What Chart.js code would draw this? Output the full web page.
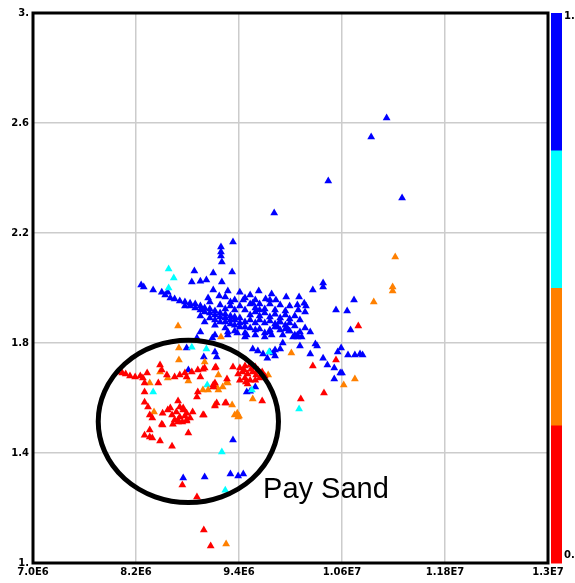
<!DOCTYPE html>
<html>
<head>
<meta charset="utf-8">
<script src="https://cdn.jsdelivr.net/npm/chart.js@4.4.1/dist/chart.umd.min.js"></script>
<style>
  html, body { margin: 0; padding: 0; background: #fff; }
  #wrap { width: 575px; height: 583px; }
</style>
</head>
<body>
<div id="wrap"><canvas id="chart"></canvas></div>
<script>
const X_UNIT = 1e6;

const xTickValues = [7.0, 8.2, 9.4, 10.6, 11.8, 13.0];
const xTickLabels = ['7.0E6', '8.2E6', '9.4E6', '1.06E7', '1.18E7', '1.3E7'];
const yTickValues = [1.0, 1.4, 1.8, 2.2, 2.6, 3.0];
const yTickLabels = ['1.', '1.4', '1.8', '2.2', '2.6', '3.'];

// colour bar, top (1.) to bottom (0.)
const colorbarColors = ['#0000ff', '#00ffff', '#ff8000', '#ff0000'];
const colorbarLabels = ['1.', '0.'];

const bluePoints = [
  [11.12, 2.618], [10.94, 2.549], [10.44, 2.389], [11.30, 2.327], [9.81, 2.273],
  [9.33, 2.167], [9.19, 2.149], [9.19, 2.131], [9.19, 2.116], [9.20, 2.095],
  [8.88, 2.062], [9.10, 2.055], [9.32, 2.058], [8.85, 2.022], [8.95, 2.025],
  [9.02, 2.029], [9.20, 2.022], [8.26, 2.011], [8.29, 2.004], [8.40, 1.993],
  [8.50, 1.985], [8.54, 1.975], [8.57, 1.985], [9.10, 1.993], [9.27, 1.989],
  [9.63, 1.989], [9.78, 1.978], [9.95, 1.967], [9.24, 1.967], [9.04, 1.964],
  [9.17, 1.971], [9.45, 1.956], [9.56, 1.945], [9.71, 1.960], [9.83, 1.956],
  [10.10, 1.967], [10.16, 1.945], [10.18, 1.935], [10.08, 1.938], [10.26, 1.993],
  [10.38, 2.018], [10.38, 2.004], [10.74, 1.956], [10.53, 1.920], [10.66, 1.916],
  [10.70, 1.847], [9.87, 1.876], [9.98, 1.844], [10.08, 1.822], [10.13, 1.822],
  [10.03, 1.822], [10.29, 1.796], [10.31, 1.789], [10.11, 1.789], [10.23, 1.760],
  [10.38, 1.745], [10.59, 1.782], [10.55, 1.767], [10.67, 1.756], [10.75, 1.756],
  [10.81, 1.760], [10.84, 1.756], [9.76, 1.767], [9.88, 1.778], [9.91, 1.800],
  [9.82, 1.753], [10.43, 1.720], [10.51, 1.709], [10.58, 1.691], [10.60, 1.691],
  [10.51, 1.669], [9.56, 1.778], [9.62, 1.771], [9.68, 1.760], [9.73, 1.745],
  [9.80, 1.764], [8.99, 1.749], [9.14, 1.749], [9.59, 1.640], [9.53, 1.625],
  [8.81, 1.702], [9.49, 1.622], [9.33, 1.447], [8.75, 1.309], [9.00, 1.313],
  [9.30, 1.324], [9.39, 1.316], [9.45, 1.324], [9.12, 1.829], [9.27, 1.829],
  [9.38, 1.836], [9.49, 1.829], [9.78, 1.829], [9.91, 1.829], [10.08, 1.829],
  [9.82, 1.775], [8.95, 1.840], [8.91, 1.818], [9.09, 1.818], [9.27, 1.840],
  [9.47, 1.822], [9.76, 1.840], [9.85, 1.858], [9.96, 1.855], [10.05, 1.829],
  [9.12, 1.767], [8.79, 1.782],
  [8.60, 1.964], [8.65, 1.960], [8.71, 1.953], [8.77, 1.949], [8.83, 1.945],
  [8.89, 1.942], [8.95, 1.935], [9.00, 1.927], [9.06, 1.924], [9.12, 1.916],
  [9.18, 1.909], [9.24, 1.905], [9.30, 1.898], [9.35, 1.895], [9.41, 1.891],
  [8.77, 1.935], [8.89, 1.927], [9.00, 1.913], [9.12, 1.902], [9.24, 1.891],
  [9.35, 1.884], [9.47, 1.876], [9.59, 1.873], [9.70, 1.873], [9.82, 1.869],
  [9.94, 1.865], [10.05, 1.862], [9.53, 1.902], [9.64, 1.898], [9.76, 1.895],
  [9.88, 1.891], [9.99, 1.887], [9.47, 1.920], [9.59, 1.927], [9.70, 1.924],
  [9.82, 1.920], [9.94, 1.916], [9.18, 1.938], [9.30, 1.935], [9.41, 1.935],
  [9.53, 1.942], [9.64, 1.942], [9.76, 1.942], [9.88, 1.938], [9.99, 1.935],
  [9.06, 1.891], [9.18, 1.876], [9.30, 1.869], [9.41, 1.858], [9.53, 1.855],
  [9.64, 1.851], [9.76, 1.847], [9.88, 1.847], [9.99, 1.844], [10.11, 1.840],
  [10.17, 1.855], [10.23, 1.840], [9.24, 1.855], [9.35, 1.844], [9.47, 1.836],
  [9.59, 1.829], [9.70, 1.822], [9.12, 1.865], [9.00, 1.876], [8.95, 1.898],
  [9.06, 1.949], [9.35, 1.956], [9.47, 1.964], [9.59, 1.956], [9.41, 1.985],
  [9.53, 1.975],
  [8.83, 1.935], [8.95, 1.920], [9.06, 1.909], [9.18, 1.895], [9.30, 1.884],
  [9.41, 1.873], [9.53, 1.884], [9.64, 1.884], [9.76, 1.880], [9.88, 1.876],
  [9.99, 1.873], [9.59, 1.913], [9.70, 1.909], [9.82, 1.905], [9.94, 1.902],
  [10.05, 1.898], [9.47, 1.858], [9.59, 1.847], [9.70, 1.836], [9.82, 1.858],
  [9.94, 1.851], [9.35, 1.865], [9.24, 1.876], [9.12, 1.884], [9.35, 1.920],
  [9.24, 1.924], [9.64, 1.920], [9.76, 1.956], [9.30, 1.949], [10.11, 1.884],
  [10.17, 1.913], [10.09, 1.920]
];

const cyanPoints = [
  [8.58, 2.069], [8.64, 2.036], [8.58, 2.000], [8.85, 1.785], [9.02, 1.778],
  [9.75, 1.767], [9.03, 1.647], [9.55, 1.629], [10.10, 1.560], [8.40, 1.622],
  [9.20, 1.404], [9.24, 1.265]
];

const orangePoints = [
  [8.69, 1.862], [8.70, 1.782], [9.19, 1.822], [10.97, 1.949], [11.22, 2.113],
  [11.19, 2.004], [11.19, 1.989], [10.01, 1.764], [10.75, 1.669], [10.62, 1.647],
  [9.00, 1.731], [9.16, 1.684], [9.26, 1.658], [9.21, 1.640], [9.04, 1.629],
  [9.16, 1.629], [9.74, 1.684], [9.56, 1.596], [9.32, 1.575], [9.38, 1.545],
  [9.40, 1.535], [8.70, 1.738], [8.48, 1.695], [8.57, 1.673], [8.36, 1.655],
  [8.81, 1.662], [9.27, 1.655], [8.98, 1.629], [8.41, 1.549], [9.12, 1.575],
  [9.35, 1.538], [9.39, 1.531], [9.25, 1.069], [9.14, 1.640]
];

const redPoints = [
  [10.79, 1.862], [10.26, 1.716], [10.53, 1.738], [10.39, 1.618], [10.12, 1.596],
  [9.67, 1.589], [8.99, 1.538], [9.12, 1.571], [9.14, 1.582], [9.25, 1.582],
  [9.13, 1.713], [8.98, 1.705], [9.26, 1.669], [9.12, 1.655], [9.10, 1.640],
  [9.33, 1.713], [9.41, 1.709], [9.47, 1.716], [9.53, 1.720], [9.59, 1.713],
  [9.44, 1.695], [9.50, 1.687], [9.56, 1.695], [9.62, 1.702], [9.67, 1.695],
  [9.47, 1.673], [9.53, 1.665], [9.59, 1.665], [9.64, 1.673], [9.70, 1.680],
  [9.50, 1.651], [9.41, 1.665], [7.99, 1.695], [8.04, 1.691], [8.08, 1.687],
  [8.13, 1.680], [8.19, 1.676], [8.25, 1.680], [8.28, 1.673], [8.33, 1.691],
  [8.30, 1.655], [8.46, 1.655], [8.48, 1.720], [8.50, 1.702], [8.56, 1.684],
  [8.65, 1.676], [8.71, 1.684], [8.77, 1.691], [8.85, 1.695], [8.92, 1.702],
  [9.00, 1.709], [9.12, 1.709], [8.95, 1.676], [8.79, 1.676], [9.10, 1.647],
  [8.92, 1.622], [8.91, 1.604], [8.30, 1.622], [8.30, 1.585], [8.34, 1.567],
  [8.69, 1.589], [8.57, 1.556], [8.51, 1.545], [8.36, 1.538], [8.39, 1.527],
  [8.62, 1.538], [8.65, 1.520], [8.71, 1.531], [8.75, 1.556], [8.79, 1.545],
  [8.83, 1.527], [8.71, 1.567], [8.75, 1.564], [8.74, 1.513], [8.79, 1.520],
  [8.86, 1.549], [8.98, 1.538], [8.69, 1.520], [8.51, 1.502], [8.36, 1.484],
  [8.30, 1.465], [8.39, 1.455], [8.48, 1.444], [8.62, 1.425], [8.81, 1.473],
  [9.24, 1.582], [8.50, 1.505], [8.63, 1.505], [8.69, 1.513], [8.79, 1.516],
  [8.36, 1.458], [8.74, 1.284], [8.91, 1.240], [8.99, 1.120], [9.07, 1.062],
  [9.46, 1.702], [9.54, 1.705], [9.60, 1.684], [9.48, 1.658], [9.39, 1.687],
  [8.67, 1.549], [8.77, 1.535], [8.60, 1.564]
];

// "Pay Sand" annotation, in data units
const payCenter = [8.81, 1.515];
const payRadius = [1.05, 0.295];
const payLabel = 'Pay Sand';
const payLabelPos = [9.68, 1.236];

const toXY = pts => pts.map(p => ({ x: p[0] * X_UNIT, y: p[1] }));

const tickFont = { family: 'DejaVu Sans', size: 10, weight: 'bold' };

const framePlugin = {
  id: 'frameAndExtras',
  afterDatasetsDraw(chart) {
    const ctx = chart.ctx;
    const xs = chart.scales.x, ys = chart.scales.y;
    ctx.save();
    // ellipse
    const cx = xs.getPixelForValue(payCenter[0] * X_UNIT);
    const cy = ys.getPixelForValue(payCenter[1]);
    const rx = Math.abs(xs.getPixelForValue((payCenter[0] + payRadius[0]) * X_UNIT) - cx);
    const ry = Math.abs(ys.getPixelForValue(payCenter[1] + payRadius[1]) - cy);
    ctx.beginPath();
    ctx.ellipse(cx, cy, rx, ry, 0, 0, Math.PI * 2);
    ctx.lineWidth = 5;
    ctx.strokeStyle = '#000';
    ctx.stroke();
    // label
    ctx.font = '29px "Liberation Sans", Arial, sans-serif';
    ctx.fillStyle = '#000';
    ctx.textAlign = 'left';
    ctx.textBaseline = 'alphabetic';
    ctx.fillText(payLabel, xs.getPixelForValue(payLabelPos[0] * X_UNIT), ys.getPixelForValue(payLabelPos[1]));
    ctx.restore();
  },
  afterDraw(chart) {
    const ctx = chart.ctx;
    const a = chart.chartArea;
    ctx.save();
    ctx.lineWidth = 3;
    ctx.strokeStyle = '#000';
    ctx.strokeRect(a.left, a.top, a.right - a.left, a.bottom - a.top);

    // colour bar
    const barX = a.right + 3, barW = 11;
    const segH = (a.bottom - a.top) / colorbarColors.length;
    colorbarColors.forEach((c, i) => {
      ctx.fillStyle = c;
      ctx.fillRect(barX, a.top + i * segH, barW, segH + 0.5);
    });
    ctx.fillStyle = '#000';
    ctx.font = 'bold 10px "DejaVu Sans"';
    ctx.textAlign = 'left';
    ctx.textBaseline = 'middle';
    ctx.fillText(colorbarLabels[0], barX + barW + 2, a.top + 3);
    ctx.fillText(colorbarLabels[1], barX + barW + 2, a.bottom - 8);
    ctx.restore();
  }
};

const pointOpts = { pointStyle: 'triangle', pointRadius: 4.5, borderWidth: 0 };

new Chart(document.getElementById('chart'), {
  type: 'scatter',
  data: {
    datasets: [
      { label: 'red', data: toXY(redPoints), backgroundColor: '#ff0000', borderColor: '#ff0000', ...pointOpts },
      { label: 'orange', data: toXY(orangePoints), backgroundColor: '#ff8000', borderColor: '#ff8000', ...pointOpts },
      { label: 'cyan', data: toXY(cyanPoints), backgroundColor: '#00ffff', borderColor: '#00ffff', ...pointOpts },
      { label: 'blue', data: toXY(bluePoints), backgroundColor: '#0000ff', borderColor: '#0000ff', ...pointOpts }
    ]
  },
  plugins: [framePlugin],
  options: {
    responsive: true,
    maintainAspectRatio: false,
    animation: false,
    events: [],
    layout: { padding: { top: 13, right: 27, left: 0, bottom: 0 } },
    plugins: {
      legend: { display: false },
      tooltip: { enabled: false }
    },
    scales: {
      x: {
        type: 'linear',
        min: 7.0 * X_UNIT,
        max: 13.0 * X_UNIT,
        afterBuildTicks: scale => { scale.ticks = xTickValues.map(v => ({ value: v * X_UNIT })); },
        afterFit: scale => { scale.height = 20; },
        ticks: {
          autoSkip: false,
          maxRotation: 0,
          padding: 3,
          color: '#000',
          font: tickFont,
          callback: (v, i) => xTickLabels[i]
        },
        grid: { color: '#cccccc', lineWidth: 1.5, drawTicks: false },
        border: { display: false }
      },
      y: {
        type: 'linear',
        min: 1.0,
        max: 3.0,
        afterBuildTicks: scale => { scale.ticks = yTickValues.map(v => ({ value: v })); },
        afterFit: scale => { scale.width = 33; },
        ticks: {
          autoSkip: false,
          padding: 4,
          color: '#000',
          font: tickFont,
          callback: (v, i) => yTickLabels[i]
        },
        grid: { color: '#cccccc', lineWidth: 1.5, drawTicks: false },
        border: { display: false }
      }
    }
  }
});
</script>
</body>
</html>
